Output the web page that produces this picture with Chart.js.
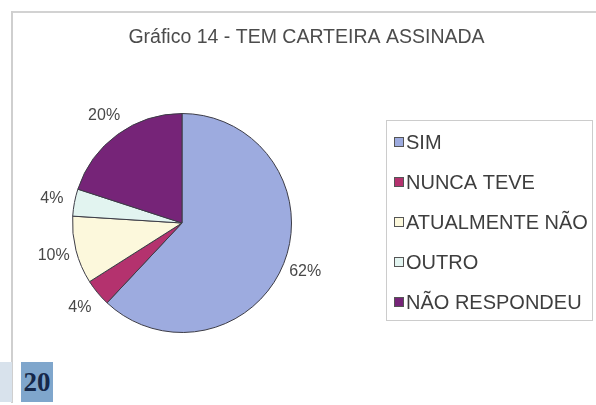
<!DOCTYPE html>
<html>
<head>
<meta charset="utf-8">
<script src="https://cdn.jsdelivr.net/npm/chart.js@4.4.1/dist/chart.umd.min.js"></script>
<style>
  html, body { margin: 0; padding: 0; background: #ffffff; }
  body { width: 596px; height: 405px; position: relative; overflow: hidden; }
  #frameTop { position: absolute; left: 11px; top: 11px; width: 585px; height: 0; border-top: 2px solid #d2d2d2; }
  #frameLeft { position: absolute; left: 11px; top: 11px; width: 0; height: 392px; border-left: 2px solid #cfcfcf; }
  #strip { position: absolute; left: 0; top: 362px; width: 12px; height: 40px; background: #d8e2ec; }
  #pageNum { position: absolute; left: 21px; top: 362px; width: 32px; height: 40px; background: #7fa6cc;
             font: bold 27px "Liberation Serif", "DejaVu Serif", serif; color: #15284a; line-height: 40px; text-align: center; }
  #c { position: absolute; left: 0; top: 0; }
</style>
</head>
<body>
<div id="frameTop"></div>
<div id="frameLeft"></div>
<div id="strip"></div>
<div id="pageNum">20</div>
<canvas id="c" width="596" height="405"></canvas>
<script>
const chartTitle = 'Gráfico 14 - TEM CARTEIRA ASSINADA';
const categories = ['SIM', 'NUNCA TEVE', 'ATUALMENTE NÃO', 'OUTRO', 'NÃO RESPONDEU'];
const percentages = [62, 4, 10, 4, 20];
const sliceColors = ['#9dabdf', '#b4326e', '#fcf8dc', '#e2f4f0', '#762478'];

const SANS = '"Liberation Sans", Arial, sans-serif';

const decorPlugin = {
  id: 'decor',
  afterDatasetsDraw(chart) {
    const ctx = chart.ctx;
    const meta = chart.getDatasetMeta(0);
    const ds = chart.data.datasets[0];
    ctx.save();
    // percentage labels outside slices
    ctx.font = '16px ' + SANS;
    ctx.fillStyle = '#484848';
    ctx.textAlign = 'center';
    ctx.textBaseline = 'middle';
    meta.data.forEach((arc, i) => {
      const p = arc.getProps(['x', 'y', 'startAngle', 'endAngle', 'outerRadius'], true);
      const mid = (p.startAngle + p.endAngle) / 2;
      const d = p.outerRadius + 23;
      ctx.fillText(ds.data[i] + '%', p.x + Math.cos(mid) * d, p.y + Math.sin(mid) * d);
    });
    // title
    ctx.font = '19.5px ' + SANS;
    ctx.fillStyle = '#4c4c4c';
    ctx.fillText(chartTitle, 306.5, 38);
    // legend box
    ctx.strokeStyle = '#cccccc';
    ctx.lineWidth = 1;
    ctx.strokeRect(386.5, 120.5, 206, 200);
    ctx.textAlign = 'left';
    ctx.font = '20px ' + SANS;
    chart.data.labels.forEach((lab, i) => {
      const cy = 142 + i * 40;
      ctx.fillStyle = ds.backgroundColor[i];
      ctx.fillRect(394, Math.round(cy) - 5, 10, 10);
      ctx.strokeStyle = '#555555';
      ctx.strokeRect(394.5, Math.round(cy) - 4.5, 9, 9);
      ctx.fillStyle = '#3e3e3e';
      ctx.fillText(lab, 406, cy + 1);
    });
    ctx.restore();
  }
};

new Chart(document.getElementById('c'), {
  type: 'pie',
  data: {
    labels: categories,
    datasets: [{
      data: percentages,
      backgroundColor: sliceColors,
      borderColor: '#3c3c46',
      borderWidth: 1
    }]
  },
  options: {
    responsive: false,
    devicePixelRatio: 1,
    animation: false,
    layout: { padding: { left: 72, top: 113, right: 304, bottom: 72 } },
    plugins: {
      legend: { display: false },
      title: { display: false },
      tooltip: { enabled: false }
    }
  },
  plugins: [decorPlugin]
});
</script>
</body>
</html>
